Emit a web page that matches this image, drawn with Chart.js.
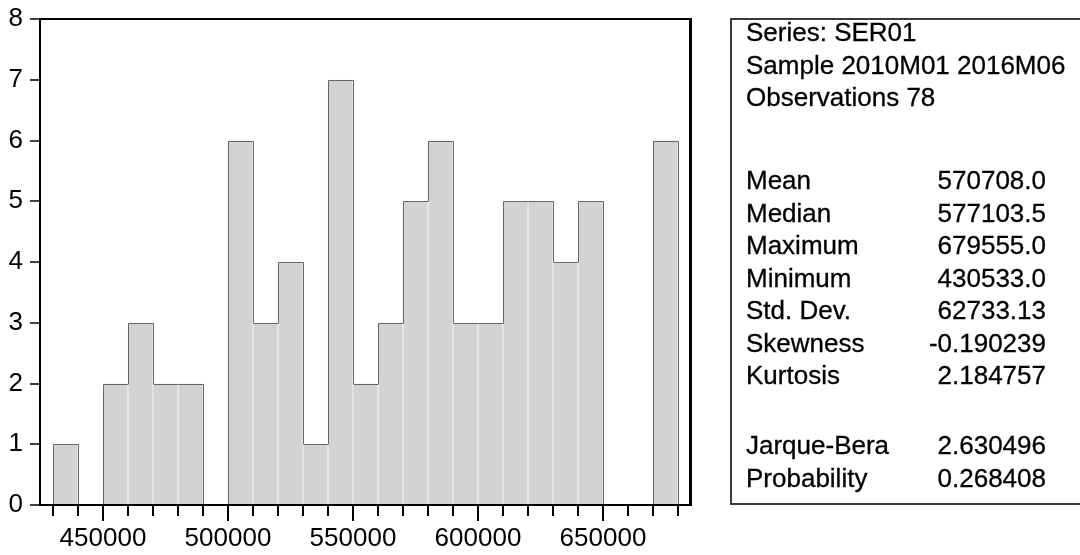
<!DOCTYPE html>
<html>
<head>
<meta charset="utf-8">
<script src="https://cdn.jsdelivr.net/npm/chart.js@4"></script>
<style>
    body { margin: 0; background: #fff; }
    #wrap { position: relative; width: 1080px; height: 555px; overflow: hidden; }
    #stats {
        position: absolute; left: 730px; top: 18px; width: 420px; height: 483px;
        border: 2px solid #3a3a3a; box-sizing: content-box;
        font-family: "Liberation Sans", Arial, sans-serif; font-size: 26px; color: #000;
        -webkit-text-stroke: 0.3px #000;
    }
    #stats .row { position: absolute; left: 14px; width: 300px; height: 32px; line-height: 32px; white-space: nowrap; }
    #stats .val { position: absolute; right: 0; top: 0; }
</style>
</head>
<body>
<div id="wrap">
    <canvas id="chart" width="1080" height="555"></canvas>
    <div id="stats"></div>
</div>
<script>
// histogram bins (width 10000), centres and counts
const binCenters = [435000, 445000, 455000, 465000, 475000, 485000, 495000, 505000, 515000, 525000,
    535000, 545000, 555000, 565000, 575000, 585000, 595000, 605000, 615000, 625000,
    635000, 645000, 655000, 665000, 675000];
const counts = [1, 0, 2, 3, 2, 2, 0, 6, 3, 4, 1, 7, 2, 3, 5, 6, 3, 3, 5, 5, 4, 5, 0, 0, 6];
const xLabelTicks = [450000, 500000, 550000, 600000, 650000];
const yTicks = [0, 1, 2, 3, 4, 5, 6, 7, 8];

const headerLines = ['Series: SER01', 'Sample 2010M01 2016M06', 'Observations 78'];
const statLabels = ['Mean', 'Median', 'Maximum', 'Minimum', 'Std. Dev.', 'Skewness', 'Kurtosis'];
const statValues = ['570708.0', '577103.5', '679555.0', '430533.0', '62733.13', '-0.190239', '2.184757'];
const testLabels = ['Jarque-Bera', 'Probability'];
const testValues = ['2.630496', '0.268408'];

const FONT = '"Liberation Sans", Arial, sans-serif';
const binHalf = 5000;
// bin edges: one tick per edge
const binEdges = binCenters.map(c => c - binHalf).concat([binCenters[binCenters.length - 1] + binHalf]);

// stats box
const box = document.getElementById('stats');
function addRow(top, label, value) {
    const r = document.createElement('div');
    r.className = 'row';
    r.style.top = top + 'px';
    r.textContent = label;
    if (value !== undefined) {
        const v = document.createElement('span');
        v.className = 'val';
        v.textContent = value;
        r.appendChild(v);
    }
    box.appendChild(r);
}
const lh = 32.5;
headerLines.forEach((t, i) => addRow(-4 + i * lh, t));
statLabels.forEach((t, i) => addRow(144 + i * lh, t, statValues[i]));
testLabels.forEach((t, i) => addRow(409 + i * lh, t, testValues[i]));

// dark outline round the histogram silhouette
const outlinePlugin = {
    id: 'histOutline',
    afterDatasetsDraw(chart) {
        const ctx = chart.ctx;
        const xs = chart.scales.x, ys = chart.scales.y;
        ctx.save();
        ctx.strokeStyle = '#666';
        ctx.lineWidth = 1;
        ctx.beginPath();
        counts.forEach((c, i) => {
            if (!c) return;
            const x0 = Math.round(xs.getPixelForValue(binCenters[i] - binHalf)) + 0.5;
            const x1 = Math.round(xs.getPixelForValue(binCenters[i] + binHalf)) + 0.5;
            const yt = Math.round(ys.getPixelForValue(c)) + 0.5;
            const prev = i > 0 ? counts[i - 1] : 0;
            const next = i < counts.length - 1 ? counts[i + 1] : 0;
            ctx.moveTo(x0, yt);
            ctx.lineTo(x1, yt);
            if (c > prev) {
                ctx.moveTo(x0, yt);
                ctx.lineTo(x0, Math.round(ys.getPixelForValue(prev)));
            }
            if (c > next) {
                ctx.moveTo(x1, yt);
                ctx.lineTo(x1, Math.round(ys.getPixelForValue(next)));
            }
        });
        ctx.stroke();
        ctx.restore();
    }
};

// frame + tick marks
const axisPlugin = {
    id: 'axisFrame',
    afterDraw(chart) {
        const ctx = chart.ctx;
        const a = chart.chartArea;
        const xs = chart.scales.x, ys = chart.scales.y;
        ctx.save();
        ctx.strokeStyle = '#000';
        ctx.lineWidth = 2;
        xs.ticks.forEach(t => {
            const px = Math.round(xs.getPixelForValue(t.value));
            const len = xLabelTicks.includes(t.value) ? 16 : 11;
            ctx.beginPath();
            ctx.moveTo(px, a.bottom);
            ctx.lineTo(px, a.bottom + len);
            ctx.stroke();
        });
        ctx.lineWidth = 1.5;
        yTicks.forEach(v => {
            const py = Math.round(ys.getPixelForValue(v));
            ctx.beginPath();
            ctx.moveTo(a.left - 10, py);
            ctx.lineTo(a.left, py);
            ctx.stroke();
        });
        ctx.lineWidth = 2;
        ctx.strokeRect(a.left, a.top, a.right - a.left, a.bottom - a.top);
        ctx.lineWidth = 3;
        ctx.beginPath();
        ctx.moveTo(a.right + 0.5, a.top - 1);
        ctx.lineTo(a.right + 0.5, a.bottom + 1);
        ctx.stroke();
        ctx.restore();
    }
};

const data = {
    datasets: [{
        data: binCenters.map((x, i) => ({ x: x, y: counts[i] })),
        backgroundColor: '#d3d3d3',
        borderColor: '#ededed',
        borderWidth: 1,
        borderSkipped: 'start',
        barPercentage: 1,
        categoryPercentage: 1,
    }]
};

function noPad(s) {
    s.paddingTop = 0; s.paddingBottom = 0; s.paddingLeft = 0; s.paddingRight = 0;
}

const config = {
    type: 'bar',
    data,
    plugins: [outlinePlugin, axisPlugin],
    options: {
        responsive: false,
        animation: false,
        layout: { padding: { left: 0, top: 19, right: 390, bottom: 0 } },
        plugins: {
            legend: false,
            tooltip: false,
        },
        scales: {
            x: {
                type: 'linear',
                offset: false,
                min: 424800,
                max: 684800,
                grid: { display: false, drawTicks: false, offset: false },
                border: { display: false },
                afterBuildTicks: s => { s.ticks = binEdges.map(v => ({ value: v })); },
                afterFit: s => { s.height = 50; noPad(s); },
                ticks: {
                    autoSkip: false,
                    maxRotation: 0,
                    minRotation: 0,
                    padding: 18,
                    color: '#000',
                    font: { family: FONT, size: 26 },
                    callback: v => xLabelTicks.includes(v) ? String(v) : ''
                }
            },
            y: {
                min: 0,
                max: 8,
                grid: { display: false, drawTicks: false },
                border: { display: false },
                afterFit: s => { s.width = 40; noPad(s); },
                ticks: {
                    stepSize: 1,
                    padding: 17,
                    color: '#000',
                    font: { family: FONT, size: 26 }
                }
            }
        }
    }
};

var myChart = new Chart(document.getElementById('chart'), config);
</script>
</body>
</html>
